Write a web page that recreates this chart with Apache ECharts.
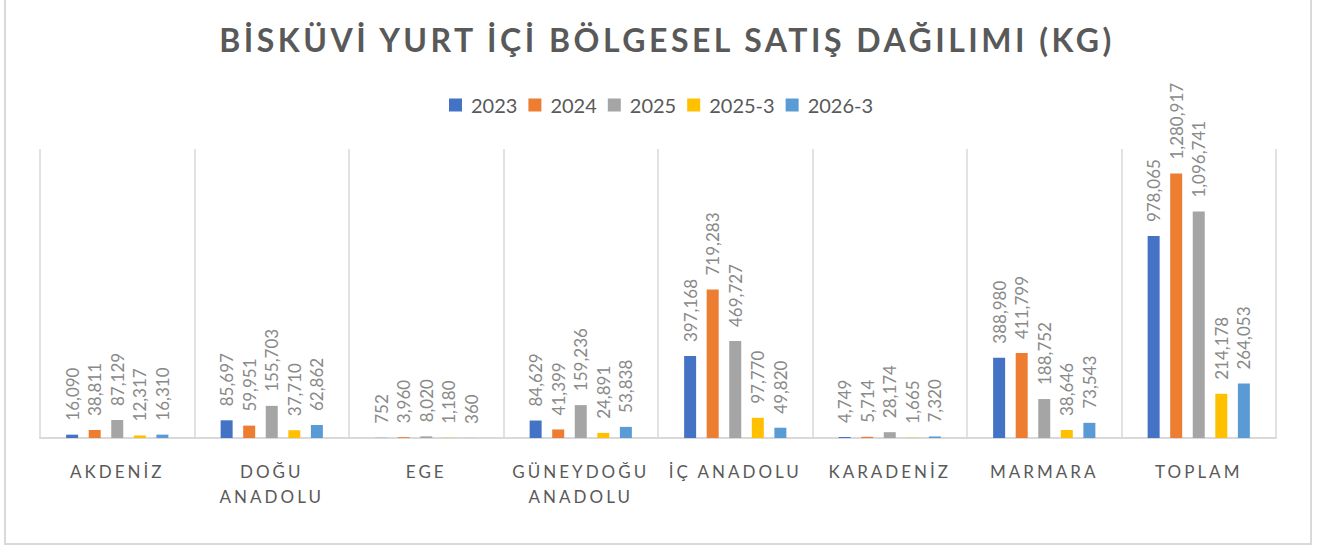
<!DOCTYPE html>
<html>
<head>
<meta charset="utf-8">
<script src="https://cdn.jsdelivr.net/npm/echarts@6/dist/echarts.min.js"></script>
<style>
html,body{margin:0;padding:0;background:#fff;}
#chart{width:1334px;height:546px;}
</style>
</head>
<body>
<div id="chart"></div>
<script>
const titleText = 'BİSKÜVİ YURT İÇİ BÖLGESEL SATIŞ DAĞILIMI (KG)';
const categories = ['AKDENİZ','DOĞU ANADOLU','EGE','GÜNEYDOĞU ANADOLU','İÇ ANADOLU','KARADENİZ','MARMARA','TOPLAM'];
const seriesNames = ['2023','2024','2025','2025-3','2026-3'];
const v2023  = [16090, 85697, 752, 84629, 397168, 4749, 388980, 978065];
const v2024  = [38811, 59951, 3960, 41399, 719283, 5714, 411799, 1280917];
const v2025  = [87129, 155703, 8020, 159236, 469727, 28174, 188752, 1096741];
const v2025_3 = [12317, 37710, 1180, 24891, 97770, 1665, 38646, 214178];
const v2026_3 = [16310, 62862, 360, 53838, 49820, 7320, 73543, 264053];
const seriesValues = [v2023, v2024, v2025, v2025_3, v2026_3];
const colors = ['#4472C4','#ED7D31','#A5A5A5','#FFC000','#5B9BD5'];

const chart = echarts.init(document.getElementById('chart'), null, {renderer:'svg'});
const option = {
  animation:false,
  backgroundColor:'#fff',
  color: colors,
  title:{
    text:titleText, left:'center', top:18,
    textStyle:{fontFamily:'Lato', fontWeight:'bold', fontSize:32, color:'#595959'}
  },
  legend:{
    data:seriesNames, top:90, left:444,
    itemWidth:13, itemHeight:13, itemGap:11, icon:'rect',
    textStyle:{fontFamily:'Lato', fontSize:20, color:'#595959', padding:[0,0,0,4]}
  },
  grid:{left:40, right:58, top:149, bottom:108, containLabel:false},
  xAxis:{
    type:'category', data:categories,
    axisLine:{show:true, lineStyle:{color:'#d9d9d9', width:2}},
    axisTick:{show:false},
    splitLine:{show:true, interval:0, lineStyle:{color:'#d9d9d9', width:1.5}},
    axisLabel:{
      interval:0, margin:21, fontFamily:'Lato', fontSize:17, color:'#595959', lineHeight:25,
      formatter:function(v){ return v.length > 10 ? v.replace(' ', '\n') : v; }
    }
  },
  yAxis:{type:'value', min:0, max:1400000, show:false, splitLine:{show:false}},
  graphic:[{type:'rect', shape:{x:5, y:-5, width:1306, height:549}, style:{fill:'none', stroke:'#d9d9d9', lineWidth:2}, silent:true}],
  series: seriesNames.map((n,i)=>({
    name:n, type:'bar', data:seriesValues[i], barWidth:12, barGap:'88%',
    label:{
      show:true, position:'top', rotate:90, align:'left', verticalAlign:'middle', distance:14,
      fontFamily:'Lato', fontSize:17, color:'#898989',
      formatter:function(p){ return p.value.toLocaleString('en-US'); }
    }
  }))
};
chart.setOption(option);

function spaceText(){
  const texts = document.querySelectorAll('#chart svg text');
  texts.forEach(t=>{
    const s = t.textContent;
    if (s === titleText) t.style.letterSpacing = '3.5px';
    else if (categories.some(c => c.split(' ').includes(s) || c === s)) t.style.letterSpacing = '3px';
  });
}
chart.on('finished', spaceText);
spaceText();
</script>
</body>
</html>
